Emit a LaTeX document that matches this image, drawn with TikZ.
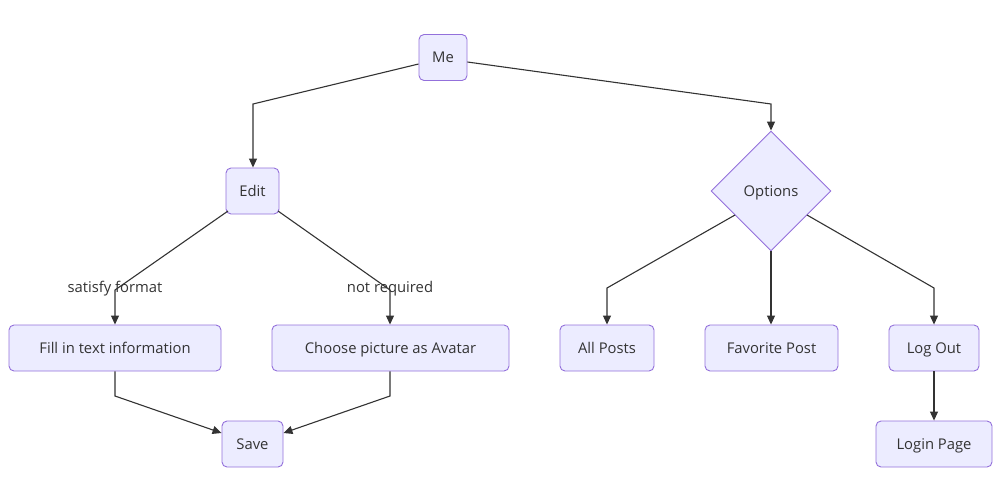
\documentclass[tikz,border=0pt]{standalone}
\usepackage{fontspec}
\setmainfont{Open Sans}
\usetikzlibrary{shapes.geometric,arrows.meta}
\definecolor{nfill}{HTML}{ECECFF}
\definecolor{nstroke}{HTML}{9370DB}
\definecolor{ln}{HTML}{333333}
\begin{document}
\begin{tikzpicture}[x=1pt,y=-1pt,
  box/.style={draw=nstroke,fill=nfill,rounded corners=5pt,line width=0.9pt,
    minimum height=46pt,inner sep=0pt,text=ln,font=\fontsize{14.8}{16}\selectfont,
    text height=12.4pt,text depth=1.8pt},
  dia/.style={draw=nstroke,fill=nfill,diamond,line width=0.9pt,minimum width=120pt,
    minimum height=120pt,inner sep=0pt,text=ln,font=\fontsize{14.8}{16}\selectfont,
    text height=12.4pt,text depth=1.8pt},
  conn/.style={draw=ln,line width=1.1pt,-{Triangle[length=9pt,width=8pt]}},
  lbl/.style={text=ln,font=\fontsize{14.8}{16}\selectfont,inner sep=1pt,
    text height=12.4pt,text depth=1.8pt}]
\useasboundingbox (0,0) rectangle (1006,488);
\node[box,minimum width=48pt] (me) at (443,57.5) {Me};
\node[box,minimum width=53pt] (edit) at (252.5,191) {Edit};
\node[dia] (opt) at (771,191) {Options};
\node[box,minimum width=212pt] (fill) at (115,348) {Fill in text information};
\node[box,minimum width=237pt] (choose) at (390.5,348) {Choose picture as Avatar};
\node[box,minimum width=94pt] (all) at (607,348) {All Posts};
\node[box,minimum width=133pt] (fav) at (771.5,348) {Favorite Post};
\node[box,minimum width=90pt] (logout) at (934,348) {Log Out};
\node[box,minimum width=61pt] (save) at (252.5,444) {Save};
\node[box,minimum width=116pt] (login) at (934,444) {Login Page};
\coordinate (c1) at (253,104);
\coordinate (c2) at (771,104);
\coordinate (c3) at (115,290);
\coordinate (c4) at (390,290);
\coordinate (c5) at (607,288);
\coordinate (c6) at (934,288);
\coordinate (c7) at (115,396);
\coordinate (c8) at (390,396);
\draw[conn] (me.west |- 0,64) -- (c1) -- (edit.north -| c1);
\draw[conn] (me.east |- 0,62) -- (c2) -- (opt.north);
\draw[conn] (228,211) -- (c3) -- (fill.north -| c3);
\draw[conn] (278,211) -- (c4) -- (choose.north -| c4);
\draw[conn] (735,215) -- (c5) -- (all.north -| c5);
\draw[conn] (opt.south) -- (fav.north -| opt.south);
\draw[conn] (807,215) -- (c6) -- (logout.north);
\draw[conn] (fill.south) -- (c7) -- (save.west |- 0,433);
\draw[conn] (choose.south -| c8) -- (c8) -- (save.east |- 0,433);
\draw[conn] (logout.south) -- (login.north);
\node[lbl] (l1) at (115,287) {satisfy format};
\node[lbl] (l2) at (390,287) {not required};
\end{tikzpicture}
\end{document}
